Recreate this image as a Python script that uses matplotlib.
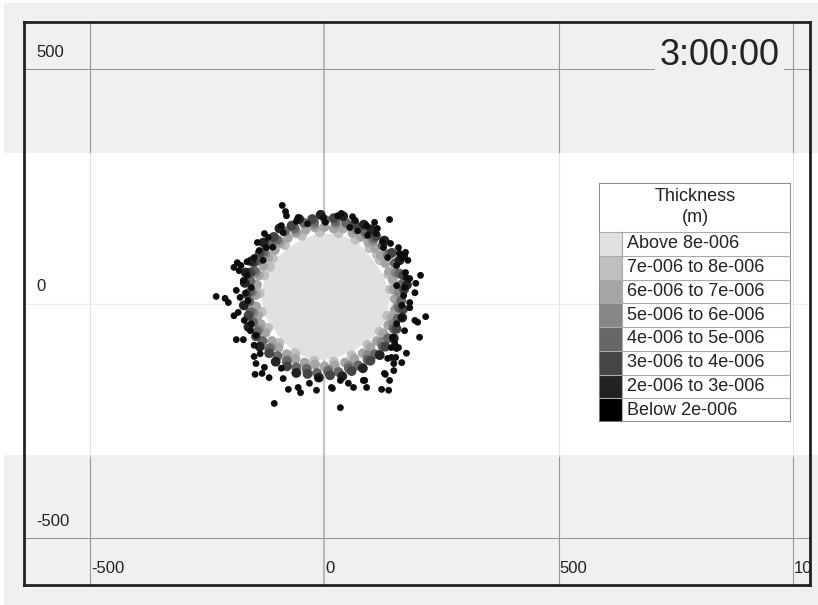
import matplotlib
matplotlib.use("Agg")
import matplotlib.pyplot as plt
from matplotlib.patches import Rectangle

plt.rcParams['font.family'] = ['Liberation Sans', 'DejaVu Sans']

time_label = "3:00:00"
x_ticks = [-500, 0, 500, 1000]
y_ticks = [500, 0, -500]
x_lim = (-641, 1036)
y_lim = (-600, 600)
band = (-324, 320)   # white strip (data y)

legend_title = "Thickness\n(m)"
legend_labels = ["Above 8e-006", "7e-006 to 8e-006", "6e-006 to 7e-006",
                 "5e-006 to 6e-006", "4e-006 to 5e-006", "3e-006 to 4e-006",
                 "2e-006 to 3e-006", "Below 2e-006"]
legend_colors = ["#e1e1e1", "#bfbfbf", "#a5a5a5", "#878787",
                 "#676767", "#454545", "#222222", "#000000"]

# thick core of the slick (outline, m)
core_x = [140, 126, 100, 70, 26, -21, -63, -99, -126, -136, -124, -98, -66, -22, 25, 67, 105, 132]
core_y = [15, 60, 97, 132, 149, 147, 128, 100, 62, 15, -31, -69, -103, -121, -117, -98, -71, -32]

# particles per thickness class
p7_x = [140, 136, 118, 96, 66, 30, -10, -48, -84, -110, -128, -138, -134, -120, -96, -62, -22, 20, 58, 92, 118, 134, 112, -116]
p7_y = [30, 62, 92, 118, 136, 150, 152, 144, 124, 96, 60, 22, -18, -52, -84, -106, -122, -124, -110, -88, -60, -26, 104, 78]
p6_x = [150, 146, 130, 108, 78, 40, 0, -40, -78, -106, -130, -144, -146, -136, -112, -80, -42, 0, 44, 82, 112, 136, 150, -20,
        148, 138, 120, 94, 60, 20, -60, -94, -120, -140, -146, -142, -126, -98, -62, -20, 22, 64, 98, 126, 144]
p6_y = [10, 50, 86, 118, 142, 160, 163, 157, 140, 114, 80, 40, -6, -44, -80, -108, -126, -134, -126, -106, -80, -46, -14, 162,
        30, 68, 102, 130, 150, 160, 150, 128, 98, 60, 18, -26, -62, -94, -118, -130, -132, -118, -94, -64, -30]
p5_x = [158, 152, 134, 104, 66, 24, -22, -62, -98, -126, -146, -154, -152, -140, -114, -80, -38, 8, 52, 92, 122, 146, 156, 88]
p5_y = [24, 66, 104, 134, 158, 170, 168, 156, 134, 106, 66, 24, -20, -56, -94, -120, -138, -141, -132, -110, -82, -44, -6, 148]
p4_x = [164, 150, 124, 86, 46, 2, -44, -84, -118, -142, -158, -160, -152, -132, -100, -60, -16, 30, 72, 108, 136, 156, 164, -130,
        160, 140, 106, 66, 24, -22, -64, -102, -150, -158, -158, -144, -118, -80, -38, 8, 52, 92, 124, 148, 160]
p4_y = [40, 86, 124, 154, 172, 178, 172, 154, 126, 92, 48, 4, -40, -80, -112, -136, -148, -146, -132, -108, -74, -32, 6, 110,
        64, 106, 140, 166, 175, 174, 161, 136, 70, 26, -18, -60, -96, -124, -140, -145, -138, -120, -92, -54, -10]
p3_x = [168, 144, 110, 64, 20, -26, -70, -108, -138, -158, -166, -162, -146, -118, -80, -36, 12, 58, 98, 130, 154, 168, 170, -150]
p3_y = [60, 108, 144, 170, 182, 180, 166, 142, 108, 66, 20, -26, -70, -106, -134, -150, -153, -144, -122, -92, -54, -12, 30, 88]
p2_x = [176, 160, 128, 84, 40, -8, -54, -96, -130, -156, -170, -172, -162, -138, -104, -60, -12, 38, 82, 118, 148, 166, -168, 100]
p2_y = [40, 92, 134, 168, 186, 189, 180, 160, 130, 90, 44, -4, -50, -92, -124, -148, -158, -155, -138, -110, -74, -30, 66, 158]

p1_x = [-90, -83, -81, -56, -92, -88, -36, -2, 2, 28, 36, 60, 66, 90, 107, 139, 54, 71, 111, 124,
        141, -128, -120, -143, -124, -139, -150, -131, -186, -178, -165, -182, -193, -173, -165, -156, -188, -180, -163, -231,
        -212, -205, -193, -184, -171, -156, -158, -146, -188, -173, -150, -150, -137, -146, -128, -148, -133, -118, -92, -88,
        -77, -56, -51, -107, -32, -17, -13, 17, 34, 34, 51, 62, 86, 90, 122, 137, 128, 148, 165, 148,
        143, 203, 193, 216, 199, 171, 165, 154, 182, 193, 169, 195, 205, 182, 173, 154, 165, 173, 160, 135,
        158, 126, 146, 158, 143, 152, 92, 113, 171, 178, 175, 154, 171, 165, 182, 175, 135, 130, 139, 83,
        15, 150, 154, -110, -168, -60]
p1_y = [209, 196, 187, 183, 166, 151, 170, 183, 173, 187, 192, 185, 177, 166, 173, 179, 162, 155, 149, 132,
        128, 149, 141, 130, 119, 113, 98, 92, 87, 81, 89, 70, 77, 49, 60, 34, 28, 13, 6, 15,
        11, 2, -26, -19, -36, -43, -58, -68, -77, -77, -89, -113, -107, -128, -136, -151, -149, -158, -138, -160,
        -183, -179, -190, -213, -170, -185, -160, -181, -222, -164, -170, -179, -164, -179, -183, -185, -149, -143, -126, -128,
        -115, -72, -36, -28, -40, -58, -30, -43, 2, 23, 17, 43, 60, 53, 66, 81, 96, 109, 107, 98,
        119, 119, -72, -94, -94, -115, 145, 160, 102, 92, 55, 38, 34, -4, -9, -106, -117, -151, -164, -164,
        -179, -85, -96, 120, 22, 175]

fig = plt.figure(figsize=(8.18, 6.05), dpi=100, facecolor="white")
fig.patches.append(Rectangle((4 / 818, 0), 1, 1 - 3 / 605, transform=fig.transFigure,
                             facecolor="#f0f0f0", edgecolor="none", zorder=-10))
fig.patches.append(Rectangle((0, 150 / 605), 1, 302 / 605, transform=fig.transFigure,
                             facecolor="white", edgecolor="none", zorder=-9))

ax = fig.add_axes([24 / 818, 20 / 605, 786 / 818, 563 / 605])
ax.set_facecolor("none")
ax.set_xlim(*x_lim)
ax.set_ylim(*y_lim)
ax.set_xticks([])
ax.set_yticks([])
for sp in ax.spines.values():
    sp.set_linewidth(2.0)
    sp.set_color("#222222")
    sp.set_zorder(10)

# grid: darker in the grey strips, faint in the white strip
for xv in x_ticks:
    lw = 1.6 if xv == 0 else 0.8
    dark = "#bbbbbb" if xv == 0 else "#999999"
    light = "#c4c4c4" if xv == 0 else "#e2e2e2"
    ax.vlines(xv, y_lim[0], band[0], color=dark, lw=lw, zorder=0.5)
    ax.vlines(xv, band[1], y_lim[1], color=dark, lw=lw, zorder=0.5)
    ax.vlines(xv, band[0], band[1], color=light, lw=lw, zorder=0.5)
for yv in y_ticks:
    col = "#ececec" if band[0] < yv < band[1] else "#999999"
    ax.axhline(yv, color=col, lw=0.8, zorder=0.5)

# tick labels drawn inside the frame
for yv in y_ticks:
    ax.text(-615, yv + 36, str(yv), fontsize=12, color="#222222", va="center", ha="left")
for xv in x_ticks:
    ax.text(xv + 2, -564, str(xv), fontsize=12, color="#222222", va="center", ha="left",
            clip_on=True)

ax.text(843, 529, time_label, fontsize=26, color="#222222", ha="center", va="center",
        bbox=dict(facecolor="#f0f0f0", edgecolor="none", pad=3), zorder=5)

# slick
ax.fill(core_x, core_y, color=legend_colors[0], lw=0, zorder=2)
classes = [(p7_x, p7_y), (p6_x, p6_y), (p5_x, p5_y), (p4_x, p4_y), (p3_x, p3_y), (p2_x, p2_y)]
for i, (px, py) in enumerate(classes):
    ax.scatter(px, py, s=50, color=legend_colors[i + 1], edgecolors="none", zorder=3 + i * 0.1)
ax.scatter(p1_x, p1_y, s=24, color="#0d0d0d", edgecolors="none", zorder=4)

# legend table
lg = fig.add_axes([599 / 818, 183 / 605, 192 / 818, 239 / 605])
lg.set_xlim(0, 192)
lg.set_ylim(0, 239)
lg.axis("off")
lg.add_patch(Rectangle((0, 0), 192, 239, facecolor="white", edgecolor="#8a8a8a", lw=1.2))
lg.text(96, 215, legend_title, fontsize=13, color="#222222", ha="center", va="center",
        linespacing=1.25)
rh = 190 / len(legend_labels)
for i, (lab, c) in enumerate(zip(legend_labels, legend_colors)):
    top = 190 - i * rh
    lg.add_patch(Rectangle((0, top - rh), 23, rh, facecolor=c, edgecolor="none"))
    lg.plot([0, 192], [top, top], color="#aaaaaa", lw=0.8)
    lg.text(28, top - rh / 2, lab, fontsize=13, color="#222222", va="center", ha="left")
lg.plot([23, 23], [0, 190], color="#aaaaaa", lw=0.8)
lg.add_patch(Rectangle((0, 0), 192, 239, facecolor="none", edgecolor="#8a8a8a", lw=1.2))

fig.savefig("out.png", dpi=100, facecolor=fig.get_facecolor())
